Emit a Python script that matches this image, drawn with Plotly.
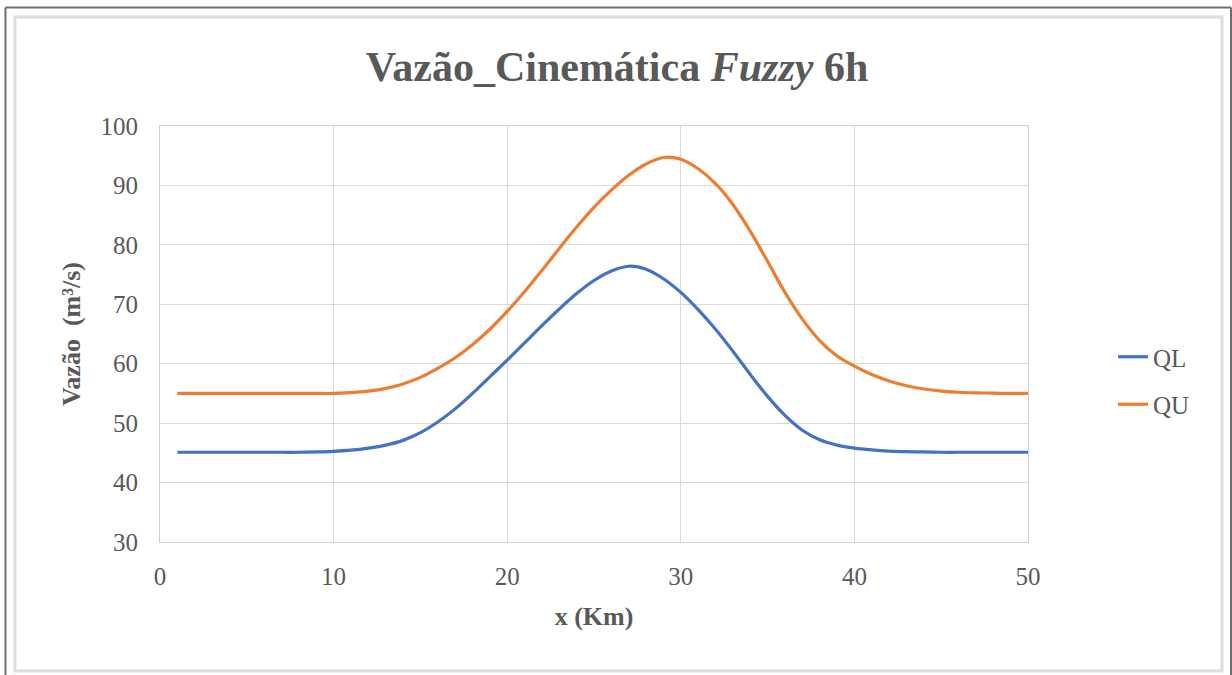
import plotly.graph_objects as go

# Distance along the reach (km)
x_km = list(range(1, 51))

# Lower bound of the fuzzy discharge (m3/s)
ql = [45.1, 45.1, 45.1, 45.1, 45.1, 45.1, 45.1, 45.1, 45.15, 45.25,
      45.45, 45.8, 46.3, 47.1, 48.4, 50.2, 52.4, 55.0, 57.8, 60.6,
      63.5, 66.4, 69.2, 71.8, 74.0, 75.6, 76.4, 75.9, 74.3, 72.0,
      69.1, 65.8, 62.1, 58.2, 54.5, 51.3, 48.8, 47.2, 46.3, 45.8,
      45.5, 45.3, 45.2, 45.15, 45.1, 45.1, 45.1, 45.1, 45.1, 45.1]

# Upper bound of the fuzzy discharge (m3/s)
qu = [55.0, 55.0, 55.0, 55.0, 55.0, 55.0, 55.0, 55.0, 55.0, 55.0,
      55.15, 55.4, 55.85, 56.6, 57.7, 59.2, 61.0, 63.2, 65.8, 68.8,
      72.1, 75.7, 79.4, 83.0, 86.3, 89.2, 91.7, 93.6, 94.7, 94.4,
      92.8, 90.3, 86.8, 82.3, 77.2, 72.0, 67.5, 63.9, 61.3, 59.6,
      58.2, 57.1, 56.3, 55.75, 55.4, 55.2, 55.1, 55.05, 55.0, 55.0]

x_ticks = [0, 10, 20, 30, 40, 50]
y_ticks = [30, 40, 50, 60, 70, 80, 90, 100]

W, H = 1232, 675
ML, MR, MT, MB = 160, 204, 126, 133
PW, PH = W - ML - MR, H - MT - MB

TEXT = "#595959"
SERIF = "Liberation Serif, Times New Roman, serif"


def px(xp):
    return (xp - ML) / PW


def py(yp):
    return (H - MB - yp) / PH


fig = go.Figure()
fig.add_trace(go.Scatter(x=x_km, y=ql, name="QL", mode="lines", legendgroup="ql",
                         line=dict(color="#4472C4", width=3.2, shape="spline", smoothing=1)))
fig.add_trace(go.Scatter(x=x_km, y=qu, name="QU", mode="lines", legendgroup="qu",
                         line=dict(color="#ED7D31", width=3.2, shape="spline", smoothing=1)))

# Page frames around the chart
shapes = [
    dict(type="line", xref="paper", yref="paper", x0=px(5.5), x1=px(5.5), y0=py(7.5), y1=py(680),
         line=dict(color="#6e6e6e", width=2)),
    dict(type="line", xref="paper", yref="paper", x0=px(5.5), x1=px(1231), y0=py(7.5), y1=py(7.5),
         line=dict(color="#6e6e6e", width=2)),
    dict(type="line", xref="paper", yref="paper", x0=px(1231), x1=px(1231), y0=py(7.5), y1=py(680),
         line=dict(color="#6e6e6e", width=2)),
    dict(type="rect", xref="paper", yref="paper", x0=px(15), x1=px(1222), y0=py(17), y1=py(671),
         line=dict(color="#dedede", width=3)),
]

fig.update_layout(
    width=W, height=H,
    margin=dict(l=ML, r=MR, t=MT, b=MB),
    paper_bgcolor="white", plot_bgcolor="white",
    shapes=shapes,
    font=dict(family=SERIF, color=TEXT, size=25),
    title=dict(text="<b>Vazão_Cinemática <i>Fuzzy</i> 6h</b>",
               x=px(617), xref="paper", xanchor="center",
               y=1 - 66 / H, yref="container", yanchor="middle",
               font=dict(family=SERIF, size=42, color=TEXT)),
    xaxis=dict(range=[0, 50], tickvals=x_ticks, ticks="", ticklabelstandoff=12,
               showgrid=True, gridcolor="#d9d9d9", gridwidth=1,
               showline=True, linecolor="#d0d0d0", linewidth=1, mirror=True,
               zeroline=False, automargin=False, tickfont=dict(size=25, color=TEXT),
               title=dict(text="<b>x (Km)</b>", standoff=17,
                          font=dict(size=26, color=TEXT))),
    yaxis=dict(range=[30, 100], tickvals=y_ticks, ticks="", ticklabelstandoff=16,
               showgrid=True, gridcolor="#d9d9d9", gridwidth=1,
               showline=True, linecolor="#d0d0d0", linewidth=1, mirror=True,
               zeroline=False, automargin=False, tickfont=dict(size=25, color=TEXT),
               title=dict(text="<b>Vazão  (m³/s)</b>", standoff=12,
                          font=dict(size=26, color=TEXT))),
    legend=dict(x=px(1113), y=py(334), xanchor="left", yanchor="top",
                font=dict(size=25, color=TEXT), tracegroupgap=12,
                bgcolor="rgba(0,0,0,0)"),
)

fig.write_html("out.html")
